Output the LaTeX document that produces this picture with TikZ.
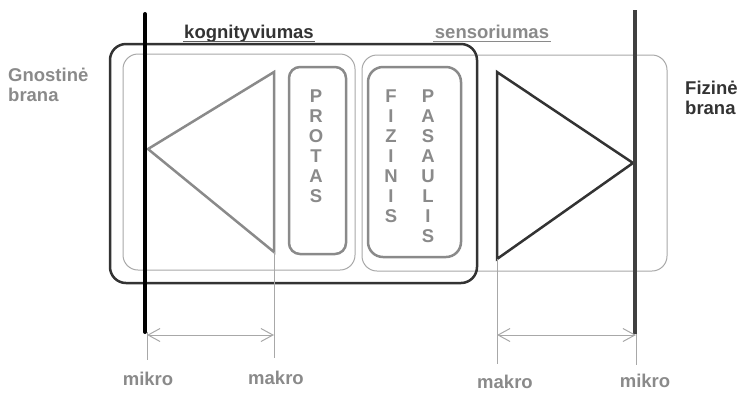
\documentclass[tikz,border=0pt]{standalone}
\usepackage{fontspec}
\setmainfont{Liberation Sans}
\usetikzlibrary{arrows.meta}
\definecolor{dk}{HTML}{333333}
\definecolor{gr}{HTML}{8A8A8A}
\definecolor{lg}{HTML}{A8A8A8}
\begin{document}
\begin{tikzpicture}[x=1pt,y=-1pt,
  lbl/.style={font=\fontsize{18.5}{20}\selectfont\bfseries, inner sep=0pt},
  stack/.style={font=\fontsize{18.5}{20}\selectfont\bfseries, inner sep=0pt, align=center, anchor=north, text=gr},
  thinbox/.style={draw=lg, line width=1pt, rounded corners=15pt},
  fatbox/.style={draw=dk, line width=2.5pt, rounded corners=16pt},
  inbox/.style={draw=gr, line width=2.5pt, rounded corners=11pt},
  dimline/.style={draw=lg, line width=1pt},
  dimarrow/.style={dimline, {Straight Barb[length=12pt,width=13pt]}-{Straight Barb[length=12pt,width=13pt]}}
]
\useasboundingbox (0,0) rectangle (741,392);

% boxes
\draw[thinbox] (123,54) rectangle (355,270);
\draw[thinbox] (362,55) rectangle (667,271);
\draw[fatbox] (110,44) rectangle (477,283);
\draw[inbox] (289,67) rectangle (346,254);
\draw[inbox, rounded corners=15pt] (368,67) rectangle (461,257);

% triangles
\coordinate (lt) at (274,72);
\coordinate (la) at (148,149);
\coordinate (lb) at (274,252);
\coordinate (rt) at (497,72);
\coordinate (ra) at (633,163);
\coordinate (rb) at (497,259);
\draw[gr, line width=2.5pt, line join=miter] (lt) -- (la) -- (lb) -- cycle;
\draw[dk, line width=2.5pt, line join=miter] (rt) -- (ra) -- (rb) -- cycle;

% vertical texts
\node[stack] (protas) at (316,90) {P\\R\\O\\T\\A\\S};
\node[stack] (fizinis) at (391,90) {F\\I\\Z\\I\\N\\I\\S};
\node[stack] (pasaulis) at (428,90) {P\\A\\S\\A\\U\\L\\I\\S};

% branes
\coordinate (g1) at (145,14);
\coordinate (g2) at (145,332);
\coordinate (f1) at (635,10);
\coordinate (f2) at (635,334);
\draw[black, line width=4pt, line cap=round] (g1) -- (g2);
\draw[black!75, line width=4pt] (f1) -- (f2);

% dimension lines
\coordinate (d1a) at (147,332);
\coordinate (d1b) at (147,360);
\coordinate (d2b) at (274,358);
\coordinate (d3b) at (497,364);
\coordinate (d4a) at (636,334);
\coordinate (d4b) at (636,365);
\coordinate (a1) at (147,335);
\coordinate (a2) at (274,335);
\coordinate (a3) at (497,335);
\coordinate (a4) at (636,335);
\draw[dimline] (d1a) -- (d1b);
\draw[dimline] (lb) -- (d2b);
\draw[dimline] (rb) -- (d3b);
\draw[dimline] (d4a) -- (d4b);
\draw[dimarrow] (a1) -- (a2);
\draw[dimarrow] (a3) -- (a4);

% labels
\node[lbl, text=dk, anchor=base] (kog) at (249,38) {kognityviumas};
\coordinate (k1) at (183,41.5);
\coordinate (k2) at (315,41.5);
\draw[dk!80, line width=1pt] (k1) -- (k2);
\node[lbl, text=gr, anchor=base] (sens) at (492,38) {sensoriumas};
\coordinate (s1) at (433,41.5);
\coordinate (s2) at (551,41.5);
\draw[gr, line width=1pt] (s1) -- (s2);

\node[lbl, text=gr, anchor=north west, align=left] (gn) at (8,68) {Gnostinė\\brana};
\node[lbl, text=dk, anchor=north west, align=left] (fz) at (685,80.5) {Fizinė\\brana};

\node[lbl, text=gr, anchor=base] (mi1) at (148,385) {mikro};
\node[lbl, text=gr, anchor=base] (ma1) at (276,384) {makro};
\node[lbl, text=gr, anchor=base] (ma2) at (505,388) {makro};
\node[lbl, text=gr, anchor=base] (mi2) at (645,387) {mikro};
\end{tikzpicture}
\end{document}
